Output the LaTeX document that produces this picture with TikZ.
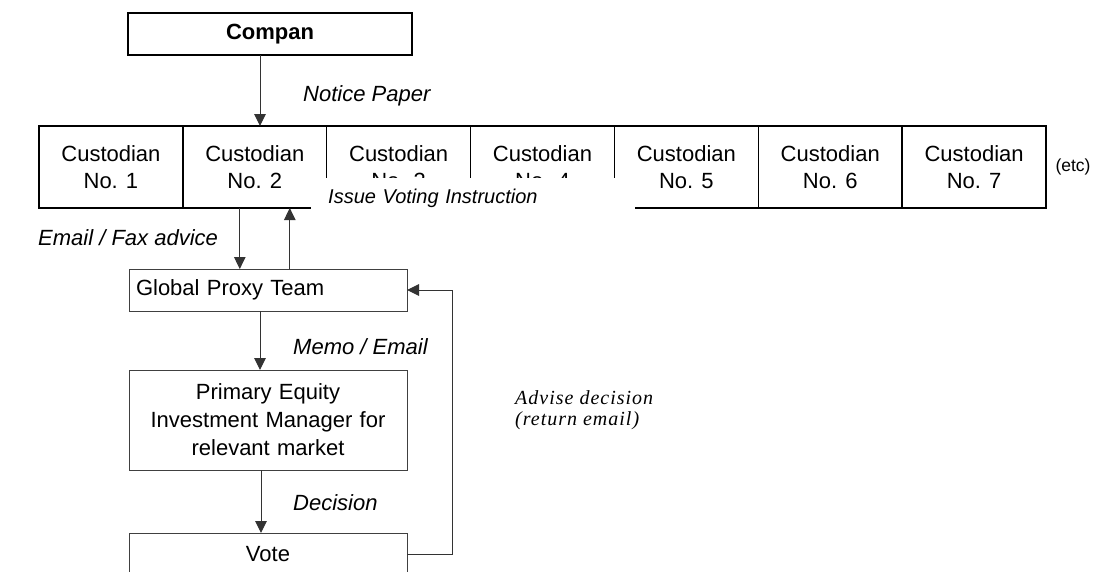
\documentclass[tikz,border=0pt]{standalone}
\usepackage{fontspec}
\setmainfont{Liberation Sans}
\newfontfamily\advisefont[LetterSpace=5]{Liberation Serif}
\usetikzlibrary{arrows.meta,positioning}

\tikzset{
  box/.style={draw=black!75, line width=1pt, minimum width=278pt, outer sep=0pt, inner xsep=7pt, font=\fontsize{22}{28}\selectfont},
  custbox/.style={draw, line width=1.4pt, minimum width=143.86pt, minimum height=82pt, align=center, outer sep=0pt, font=\fontsize{22}{27}\selectfont},
  arr/.style={-{Triangle[length=12pt,width=11.5pt]}, draw=black!80, line width=1pt},
  lbl/.style={anchor=west, inner sep=0pt, font=\fontsize{22}{26}\selectfont\itshape},
}

\begin{document}
\begin{tikzpicture}[x=1pt,y=-1pt]
\useasboundingbox (0,0) rectangle (1096,571);
\clip (0,0) rectangle (1096,571);
\node[box, draw=black, line width=1.2pt, minimum width=284pt, minimum height=42pt, font=\fontsize{22}{26}\selectfont\bfseries] (company) at (270,34) {Compan};
\foreach \i in {1,...,7}
  \node[custbox] (cust\i) at ({39+143.86*(\i-0.5)},167) {Custodian\\No. \i};
\node[anchor=west, font=\fontsize{17.5}{20}\selectfont] (etc) at (1052,167) {(etc)};
% white label box laid over the custodian row
\node[fill=white, anchor=north west, minimum width=324pt, minimum height=40pt, text width=290pt, inner xsep=17pt, align=left, font=\fontsize{20}{24}\selectfont\itshape] (issue) at (311,178) {Issue Voting Instruction};

\node[box, minimum height=42pt, text width=264pt, align=left] (gpt) at (268,290) {Global Proxy Team};
\node[box, minimum height=100pt, text width=264pt, align=center] (peim) at (268,420) {Primary Equity\\Investment Manager for\\relevant market};
\node[box, minimum height=42pt] (vote) at (268,554) {Vote};

\draw[arr] ([xshift=-10pt]company.south) -- ([xshift=-10pt]company.south |- cust2.north);
\draw[arr] ([xshift=-15pt]cust2.south) -- ([xshift=-15pt]cust2.south |- gpt.north);
\draw[arr] ([xshift=35pt]cust2.south |- gpt.north) -- ([xshift=35pt]cust2.south);
\draw[arr] ([xshift=-8pt]gpt.south) -- ([xshift=-8pt]peim.north);
\draw[arr] ([xshift=-7pt]peim.south) -- ([xshift=-7pt]vote.north);
\coordinate (turn) at (452,554);
\draw[arr] (vote.east) -- (turn) |- (gpt.east);

\node[lbl] (notice) at (303,96) {Notice Paper};
\node[lbl] (emailfax) at (38,238) {Email / Fax advice};
\node[lbl] (memo) at (293,347) {Memo / Email};
\node[lbl] (decision) at (293,503) {Decision};
\node[anchor=west, align=left, inner sep=0pt, font=\advisefont\fontsize{20}{21}\selectfont\itshape] (advise) at (515,410) {Advise decision\\(return email)};
\end{tikzpicture}
\end{document}
